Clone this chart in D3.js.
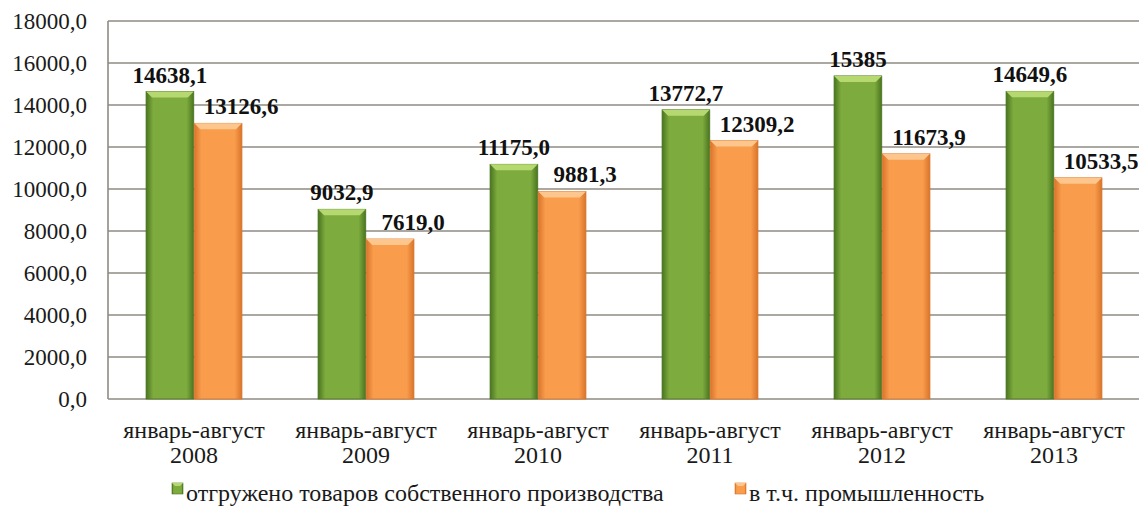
<!DOCTYPE html>
<html>
<head>
<meta charset="utf-8">
<script src="https://cdn.jsdelivr.net/npm/d3@7"></script>
<style>
  body { margin: 0; background: #fff; }
  svg { display: block; }
  svg text { font-family: "Liberation Serif", "Times New Roman", "DejaVu Serif", serif !important; }
</style>
</head>
<body>
<svg width="1139" height="511"></svg>
<script>
// chart data
var categories = ["2008", "2009", "2010", "2011", "2012", "2013"];
var catPrefix = "январь-август";
var seriesNames = ["отгружено товаров собственного производства", "в т.ч. промышленность"];
var shipped = [14638.1, 9032.9, 11175.0, 13772.7, 15385, 14649.6];
var industry = [13126.6, 7619.0, 9881.3, 12309.2, 11673.9, 10533.5];
var shippedLabels = ["14638,1", "9032,9", "11175,0", "13772,7", "15385", "14649,6"];
var industryLabels = ["13126,6", "7619,0", "9881,3", "12309,2", "11673,9", "10533,5"];
var yTicks = [0, 2000, 4000, 6000, 8000, 10000, 12000, 14000, 16000, 18000];

var svg = d3.select("svg"),
    plotLeft = 108, plotRight = 1140, plotTop = 21, plotBottom = 399;

var xScale = d3.scaleBand().domain(categories).range([plotLeft, plotRight]).padding(0),
    sScale = d3.scaleBand().domain([0, 1]).range([0, xScale.bandwidth()]).paddingInner(0.01).paddingOuter(0.79),
    yScale = d3.scaleLinear().domain([0, 18000]).range([plotBottom, plotTop]);

var defs = svg.append("defs");
var palettes = [
    { edge: "#4a7420", mid: "#7dab3d", top: "#b6d870", label: 0 },
    { edge: "#d9742a", mid: "#f99c4c", top: "#fdc68c", label: 23 }
];
palettes.forEach(function(p, i) {
    var grad = defs.append("linearGradient").attr("id", "g" + i).attr("x1", 0).attr("x2", 1);
    grad.append("stop").attr("offset", "0%").attr("stop-color", p.edge);
    grad.append("stop").attr("offset", "15%").attr("stop-color", p.mid);
    grad.append("stop").attr("offset", "85%").attr("stop-color", p.mid);
    grad.append("stop").attr("offset", "100%").attr("stop-color", p.edge);
});

// grid
svg.append("g")
    .selectAll("line")
    .data(yTicks)
    .enter().append("line")
    .attr("x1", plotLeft).attr("x2", plotRight)
    .attr("y1", d => yScale(d)).attr("y2", d => yScale(d))
    .attr("stroke", "#8e8b82")
    .attr("stroke-width", 1.6);

svg.append("line")
    .attr("x1", plotLeft).attr("x2", plotLeft)
    .attr("y1", plotTop).attr("y2", plotBottom)
    .attr("stroke", "#8e8b82")
    .attr("stroke-width", 1.6);

// y axis labels
var yAxis = svg.append("g")
    .attr("transform", "translate(" + plotLeft + ",0)")
    .call(d3.axisLeft(yScale).tickValues(yTicks).tickSize(0).tickPadding(21)
        .tickFormat(d => d3.format(".1f")(d).replace(".", ",")));
yAxis.select(".domain").remove();
yAxis.selectAll("text")
    .attr("font-size", "23px")
    .attr("fill", "#1a1a1a");

// bars
var series = [shipped, industry];
var labels = [shippedLabels, industryLabels];
series.forEach(function(values, si) {
    var p = palettes[si];
    var g = svg.append("g");
    var bw = sScale.bandwidth(), bev = 6;
    values.forEach(function(v, ci) {
        var x = xScale(categories[ci]) + sScale(si),
            y = yScale(v),
            h = plotBottom - y;
        g.append("rect")
            .attr("x", x).attr("y", y)
            .attr("width", bw).attr("height", h)
            .attr("fill", "url(#g" + si + ")")
            .attr("stroke", p.edge)
            .attr("stroke-width", 0.8);
        g.append("polygon")
            .attr("points", [[x, y], [x + bw, y], [x + bw - bev, y + bev], [x + bev, y + bev]].join(" "))
            .attr("fill", p.top);
        svg.append("text")
            .attr("x", x + bw / 2 + p.label)
            .attr("y", y - 9)
            .attr("text-anchor", "middle")
            .attr("font-size", "23px")
            .attr("font-weight", "bold")
            .attr("fill", "#111")
            .text(labels[si][ci]);
    });
});

// category labels
var cat = svg.append("g")
    .selectAll("text")
    .data(categories)
    .enter().append("text")
    .attr("text-anchor", "middle")
    .attr("font-size", "24px")
    .attr("fill", "#1a1a1a");
cat.append("tspan").attr("x", d => xScale(d) + xScale.bandwidth() / 2).attr("y", 438).text(catPrefix);
cat.append("tspan").attr("x", d => xScale(d) + xScale.bandwidth() / 2).attr("y", 463).text(d => d);

// legend
var legendX = [172, 735];
seriesNames.forEach(function(name, i) {
    var lg = svg.append("g").attr("transform", "translate(" + legendX[i] + ",483)");
    lg.append("rect").attr("width", 11).attr("height", 11)
        .attr("fill", "url(#g" + i + ")").attr("stroke", palettes[i].edge).attr("stroke-width", 0.6);
    lg.append("polygon").attr("points", "0,0 11,0 8,3 3,3").attr("fill", palettes[i].top);
    lg.append("text").attr("x", 14).attr("y", 18)
        .attr("font-size", "24px").attr("fill", "#1a1a1a")
        .text(name);
});
</script>
</body>
</html>
